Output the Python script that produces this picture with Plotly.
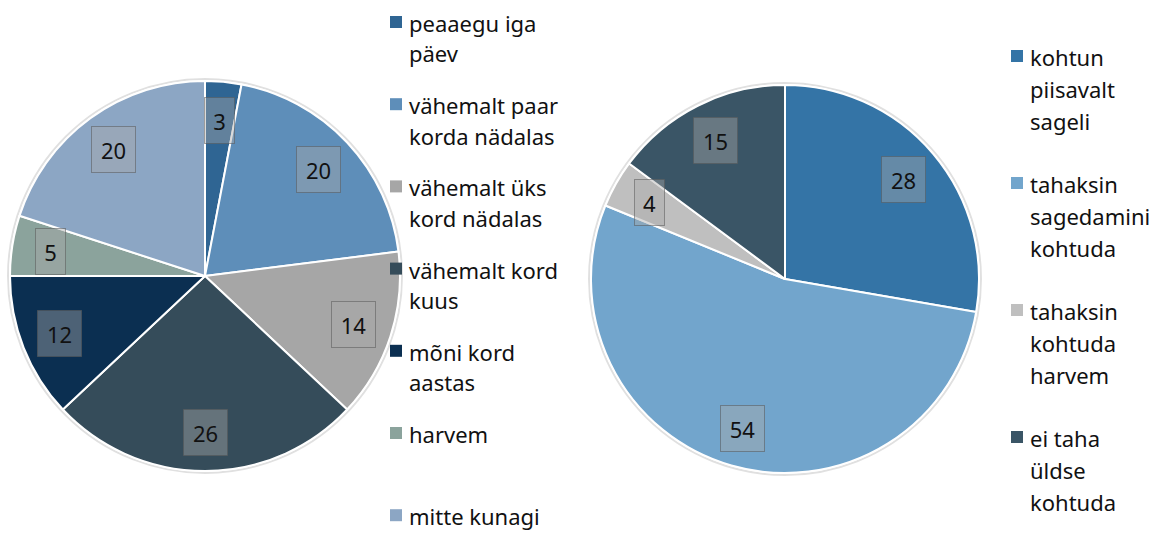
import math
import plotly.graph_objects as go

W, H = 1159, 534

# Left chart: how often
freq_labels = ["peaaegu iga\npäev", "vähemalt paar\nkorda nädalas", "vähemalt üks\nkord nädalas",
               "vähemalt kord\nkuus", "mõni kord\naastas", "harvem", "mitte kunagi"]
freq_values = [3, 20, 14, 26, 12, 5, 20]
freq_colors = ["#2F6593", "#5E8EB9", "#A6A6A6", "#354C5A", "#0B2F51", "#8BA39C", "#8CA6C4"]

# Right chart: satisfaction with frequency
wish_labels = ["kohtun\npiisavalt\nsageli", "tahaksin\nsagedamini\nkohtuda",
               "tahaksin\nkohtuda\nharvem", "ei taha\nüldse\nkohtuda"]
wish_values = [28, 54, 4, 15]
wish_colors = ["#3474A6", "#72A5CC", "#BFBFBF", "#3A5566"]

FONT = "Noto Sans"

# pie geometry in pixels: centre x, centre y, radius, plus legend placement
pies = [
    dict(labels=freq_labels, values=freq_values, colors=freq_colors, cx=205, cy=276, r=195,
         leg_x=390, leg_y0=23, leg_step=82.2, line_step=30.5),
    dict(labels=wish_labels, values=wish_values, colors=wish_colors, cx=785, cy=279, r=194,
         leg_x=1011, leg_y0=57, leg_step=127, line_step=32),
]

fig = go.Figure()
annotations = []
shapes = []


def px(x):
    return x / W


def py(y):
    return 1 - y / H


for p in pies:
    cx, cy, r = p["cx"], p["cy"], p["r"]

    # soft rim around the pie
    shapes.append(dict(
        type="circle", xref="paper", yref="paper", layer="below",
        x0=px(cx - r - 2), x1=px(cx + r + 2), y0=py(cy + r + 2), y1=py(cy - r - 2),
        line=dict(color="rgba(0,0,0,0.12)", width=2), fillcolor="rgba(0,0,0,0)",
    ))

    fig.add_trace(go.Pie(
        labels=[l.replace("\n", " ") for l in p["labels"]],
        values=p["values"],
        sort=False,
        direction="clockwise",
        rotation=0,
        textinfo="none",
        hoverinfo="label+value",
        marker=dict(colors=p["colors"], line=dict(color="white", width=2)),
        domain=dict(x=[px(cx - r), px(cx + r)], y=[py(cy + r), py(cy - r)]),
        showlegend=False,
    ))

    # value labels in translucent boxes
    total = sum(p["values"])
    cum = 0
    for v in p["values"]:
        a = math.radians((cum + v / 2) / total * 360)
        cum += v
        lx = cx + 0.8 * r * math.sin(a)
        ly = cy - 0.8 * r * math.cos(a)
        annotations.append(dict(
            x=px(lx), y=py(ly), xref="paper", yref="paper",
            text=str(v), showarrow=False,
            font=dict(family=FONT, size=22, color="#111111"),
            bgcolor="rgba(170,170,170,0.42)",
            bordercolor="rgba(90,90,90,0.55)", borderwidth=1,
            borderpad=8, width=27 if len(str(v)) > 1 else 13,
            height=29,
            xanchor="center", yanchor="middle",
        ))

    # legend drawn as squares + text lines
    for i, (lab, col) in enumerate(zip(p["labels"], p["colors"])):
        y0 = p["leg_y0"] + i * p["leg_step"]
        shapes.append(dict(
            type="rect", xref="paper", yref="paper",
            x0=px(p["leg_x"]), x1=px(p["leg_x"] + 12),
            y0=py(y0 + 5), y1=py(y0 - 7),
            fillcolor=col, line=dict(width=0),
        ))
        for j, line in enumerate(lab.split("\n")):
            annotations.append(dict(
                x=px(p["leg_x"] + 18), y=py(y0 + j * p["line_step"]),
                xref="paper", yref="paper", text=line, showarrow=False,
                font=dict(family=FONT, size=22, color="#111111"),
                borderpad=0,
                xanchor="left", yanchor="middle",
            ))

fig.update_layout(
    width=W, height=H,
    margin=dict(l=0, r=0, t=0, b=0),
    paper_bgcolor="white", plot_bgcolor="white",
    annotations=annotations, shapes=shapes,
)

fig.write_html("out.html")
